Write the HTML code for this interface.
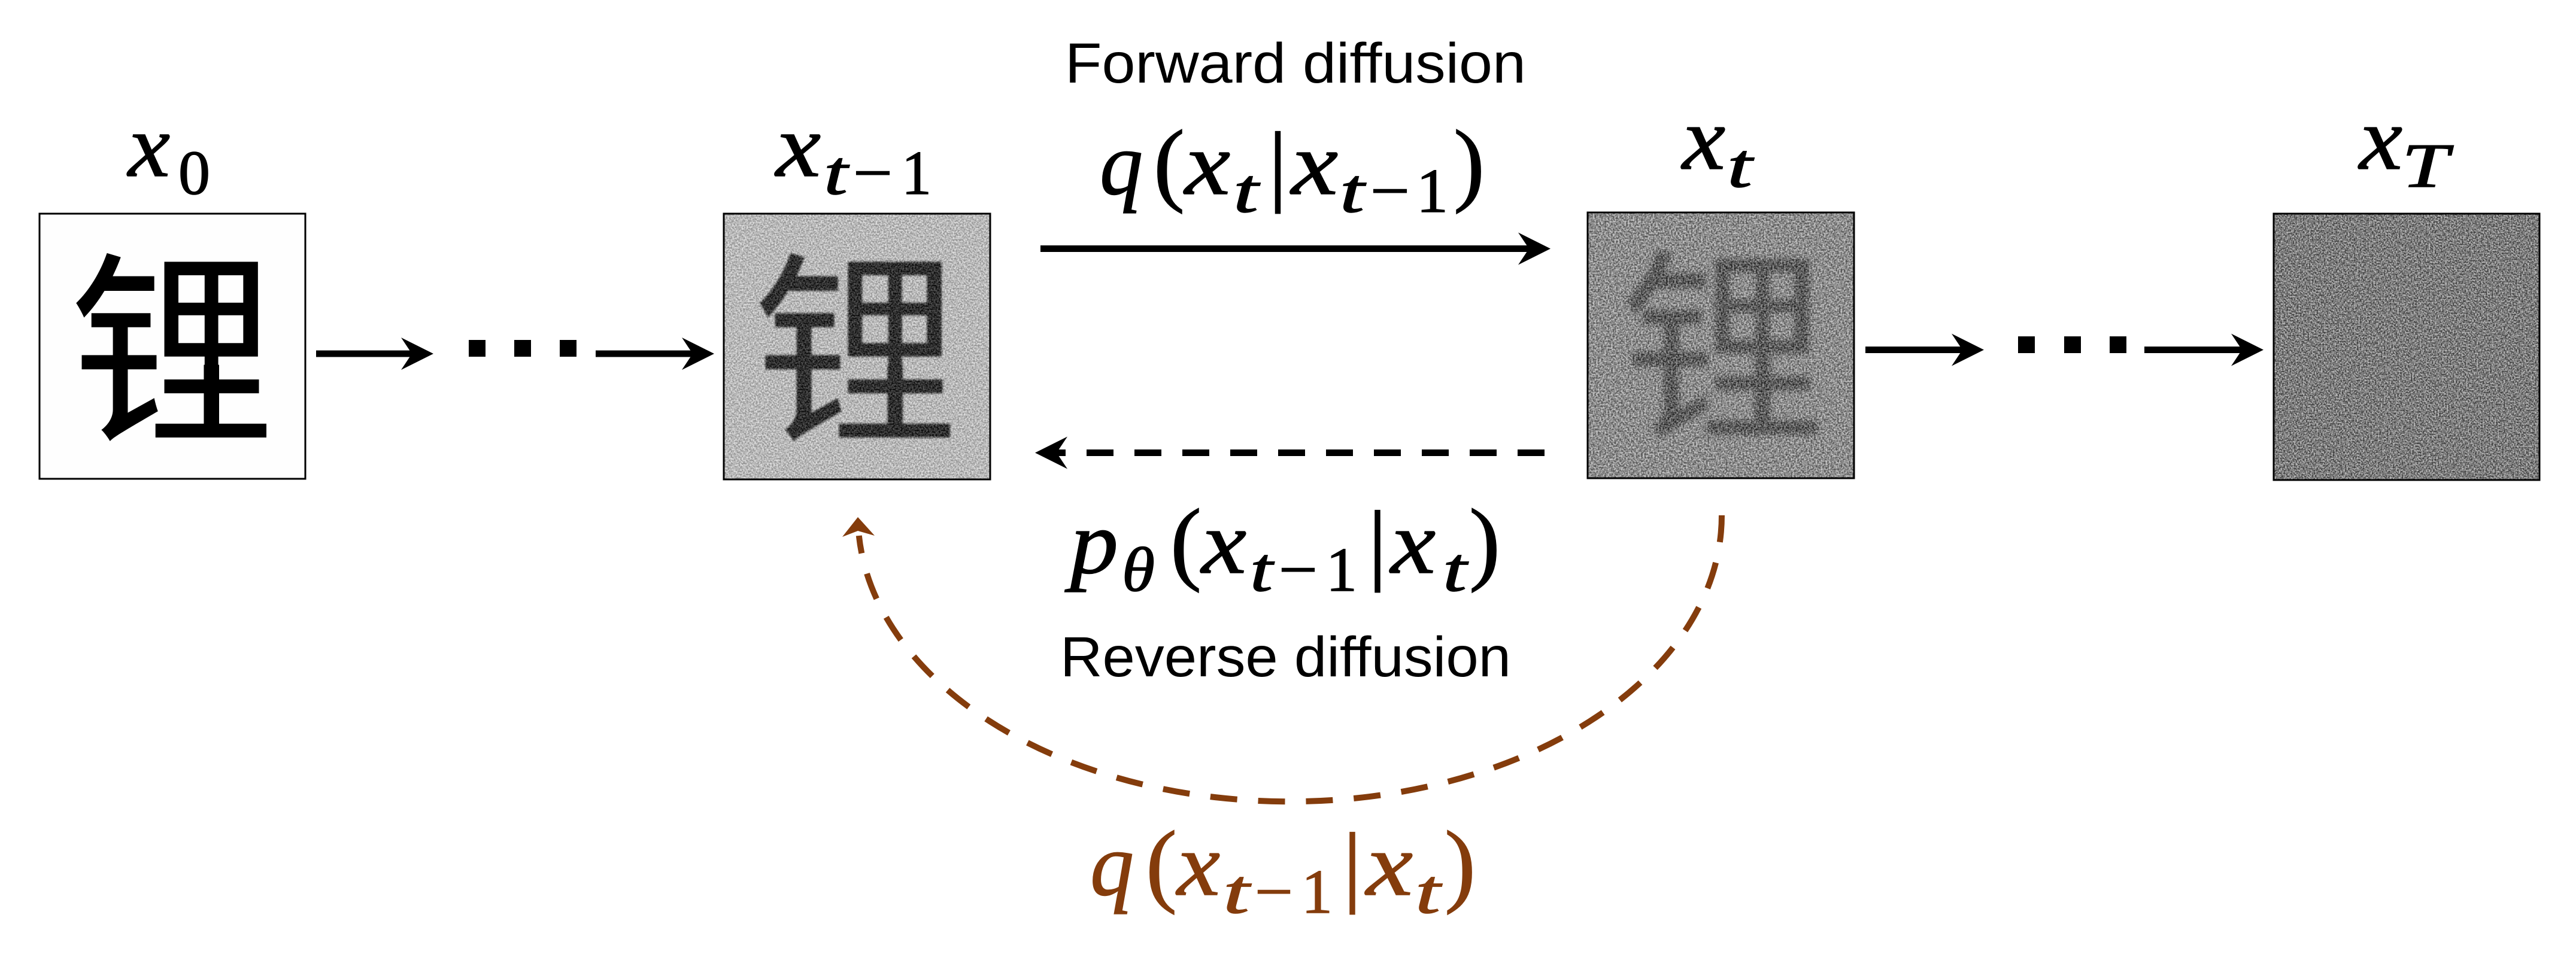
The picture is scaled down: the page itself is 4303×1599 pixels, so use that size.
<!DOCTYPE html>
<html>
<head>
<meta charset="utf-8">
<style>
  html, body { margin: 0; padding: 0; background: #ffffff; }
  svg { display: block; }
  .m { font-family: "Liberation Serif", "DejaVu Serif", serif; font-style: italic; stroke-width: 1.5px; }
  .u { font-family: "Liberation Serif", "DejaVu Serif", serif; font-style: normal; stroke-width: 1.5px; }
  .s { font-family: "Liberation Sans", "DejaVu Sans", sans-serif; }
  .cjk { font-family: "Noto Sans CJK SC", "WenQuanYi Zen Hei", sans-serif; }
  .blk text.m, .blk text.u { stroke: #000; }
  .brn text.m, .brn text.u { stroke: #843C0C; }
</style>
</head>
<body>
<svg xmlns="http://www.w3.org/2000/svg" width="4303" height="1599" viewBox="0 0 4303 1599">
  <defs>
    <filter id="noise" x="0" y="0" width="1" height="1" filterUnits="objectBoundingBox" color-interpolation-filters="sRGB">
      <feTurbulence type="fractalNoise" baseFrequency="0.38" numOctaves="2" seed="7" result="t"/>
      <feColorMatrix in="t" type="matrix" values="2.4 0 0 0 -0.7  2.4 0 0 0 -0.7  2.4 0 0 0 -0.7  0 0 0 0 1"/>
    </filter>
    <filter id="noise2" x="0" y="0" width="1" height="1" filterUnits="objectBoundingBox" color-interpolation-filters="sRGB">
      <feTurbulence type="fractalNoise" baseFrequency="0.36" numOctaves="2" seed="19" result="t"/>
      <feColorMatrix in="t" type="matrix" values="2.4 0 0 0 -0.7  2.4 0 0 0 -0.7  2.4 0 0 0 -0.7  0 0 0 0 1"/>
    </filter>
    <filter id="noise3" x="0" y="0" width="1" height="1" filterUnits="objectBoundingBox" color-interpolation-filters="sRGB">
      <feTurbulence type="fractalNoise" baseFrequency="0.4" numOctaves="2" seed="31" result="t"/>
      <feColorMatrix in="t" type="matrix" values="2.4 0 0 0 -0.7  2.4 0 0 0 -0.7  2.4 0 0 0 -0.7  0 0 0 0 1"/>
    </filter>
    <filter id="blur" x="-10%" y="-10%" width="120%" height="120%">
      <feGaussianBlur stdDeviation="5"/>
    </filter>
    <filter id="blur1" x="-10%" y="-10%" width="120%" height="120%">
      <feGaussianBlur stdDeviation="1.5"/>
    </filter>
    <clipPath id="c1"><rect x="1209" y="357" width="445" height="444"/></clipPath>
    <clipPath id="c2"><rect x="2652" y="355" width="445" height="444"/></clipPath>
  </defs>

  <rect x="0" y="0" width="4303" height="1599" fill="#ffffff"/>

  <!-- ============ Box x0 ============ -->
  <rect x="66" y="357" width="444" height="443" fill="#fefefe"/>
  <text class="cjk" x="288" y="712" font-size="345" text-anchor="middle" fill="#000">锂</text>
  <rect x="66" y="357" width="444" height="443" fill="none" stroke="#000" stroke-width="3"/>

  <!-- ============ Box x_{t-1} ============ -->
  <g clip-path="url(#c1)">
    <rect x="1209" y="357" width="445" height="444" fill="#d2d2d2"/>
    <text class="cjk" x="1430" y="712" font-size="345" text-anchor="middle" fill="#111" filter="url(#blur1)">锂</text>
    <rect x="1209" y="357" width="445" height="444" filter="url(#noise)" opacity="0.3"/>
  </g>
  <rect x="1209" y="357" width="445" height="444" fill="none" stroke="#000" stroke-width="3"/>

  <!-- ============ Box x_t ============ -->
  <g clip-path="url(#c2)">
    <rect x="2652" y="355" width="445" height="444" fill="#999999"/>
    <text class="cjk" x="2879" y="707" font-size="345" text-anchor="middle" fill="#3c3c3c" filter="url(#blur)">锂</text>
    <rect x="2652" y="355" width="445" height="444" filter="url(#noise2)" opacity="0.45"/>
  </g>
  <rect x="2652" y="355" width="445" height="444" fill="none" stroke="#000" stroke-width="3"/>

  <!-- ============ Box x_T ============ -->
  <rect x="3798" y="357" width="444" height="445" fill="#7a7a7a"/>
  <rect x="3798" y="357" width="444" height="445" filter="url(#noise3)" opacity="0.5"/>
  <rect x="3798" y="357" width="444" height="445" fill="none" stroke="#000" stroke-width="3"/>

  <g class="blk">
  <!-- ============ Labels above boxes ============ -->
  <!-- x_0 -->
  <text class="m" x="214" y="294" font-size="150" textLength="70" lengthAdjust="spacingAndGlyphs">x</text>
  <text class="u" x="298" y="324" font-size="105" textLength="53" lengthAdjust="spacingAndGlyphs">0</text>

  <!-- x_{t-1} -->
  <text class="m" x="1296" y="294" font-size="150" textLength="75" lengthAdjust="spacingAndGlyphs">x</text>
  <text class="m" x="1376" y="324" font-size="105" textLength="40" lengthAdjust="spacingAndGlyphs">t</text>
  <text class="u" x="1425" y="324" font-size="105" textLength="66" lengthAdjust="spacingAndGlyphs">−</text>
  <text class="u" x="1506" y="324" font-size="105" textLength="50" lengthAdjust="spacingAndGlyphs">1</text>

  <!-- x_t -->
  <text class="m" x="2810" y="282" font-size="150" textLength="72" lengthAdjust="spacingAndGlyphs">x</text>
  <text class="m" x="2885" y="312" font-size="105" textLength="42" lengthAdjust="spacingAndGlyphs">t</text>

  <!-- x_T -->
  <text class="m" x="3941" y="282" font-size="150" textLength="72" lengthAdjust="spacingAndGlyphs">x</text>
  <text class="m" x="4012" y="312" font-size="105" textLength="78" lengthAdjust="spacingAndGlyphs">T</text>

  <!-- q(x_t | x_{t-1}) -->
  <text class="m" x="1837" y="324" font-size="150" textLength="72" lengthAdjust="spacingAndGlyphs">q</text>
  <text class="u" x="1927" y="324" font-size="155" textLength="52" lengthAdjust="spacingAndGlyphs">(</text>
  <text class="m" x="1979" y="324" font-size="150" textLength="76" lengthAdjust="spacingAndGlyphs">x</text>
  <text class="m" x="2060" y="354" font-size="105" textLength="42" lengthAdjust="spacingAndGlyphs">t</text>
  <text class="u" x="2134.5" y="324" font-size="150" text-anchor="middle" style="stroke-width:2px">|</text>
  <text class="m" x="2157" y="324" font-size="150" textLength="78" lengthAdjust="spacingAndGlyphs">x</text>
  <text class="m" x="2238" y="354" font-size="105" textLength="41" lengthAdjust="spacingAndGlyphs">t</text>
  <text class="u" x="2289" y="354" font-size="105" textLength="66" lengthAdjust="spacingAndGlyphs">−</text>
  <text class="u" x="2366" y="354" font-size="105" textLength="53" lengthAdjust="spacingAndGlyphs">1</text>
  <text class="u" x="2428" y="324" font-size="155" textLength="52" lengthAdjust="spacingAndGlyphs">)</text>

  <!-- p_theta(x_{t-1} | x_t) -->
  <text class="m" x="1788" y="957" font-size="150" textLength="80" lengthAdjust="spacingAndGlyphs">p</text>
  <text class="m" x="1874" y="987" font-size="105" textLength="55" lengthAdjust="spacingAndGlyphs">θ</text>
  <text class="u" x="1955" y="957" font-size="155" textLength="52" lengthAdjust="spacingAndGlyphs">(</text>
  <text class="m" x="2007" y="957" font-size="150" textLength="75" lengthAdjust="spacingAndGlyphs">x</text>
  <text class="m" x="2088" y="987" font-size="105" textLength="38" lengthAdjust="spacingAndGlyphs">t</text>
  <text class="u" x="2136" y="987" font-size="105" textLength="65" lengthAdjust="spacingAndGlyphs">−</text>
  <text class="u" x="2215" y="987" font-size="105" textLength="52" lengthAdjust="spacingAndGlyphs">1</text>
  <text class="u" x="2301" y="957" font-size="150" text-anchor="middle" style="stroke-width:2px">|</text>
  <text class="m" x="2323" y="957" font-size="150" textLength="75" lengthAdjust="spacingAndGlyphs">x</text>
  <text class="m" x="2410" y="987" font-size="105" textLength="40" lengthAdjust="spacingAndGlyphs">t</text>
  <text class="u" x="2454" y="957" font-size="155" textLength="52" lengthAdjust="spacingAndGlyphs">)</text>
  </g>

  <!-- ============ Forward / Reverse text ============ -->
  <text class="s" x="1779" y="138" font-size="95" textLength="770" lengthAdjust="spacingAndGlyphs">Forward diffusion</text>
  <text class="s" x="1771" y="1130" font-size="95" textLength="753" lengthAdjust="spacingAndGlyphs">Reverse diffusion</text>

  <!-- ============ Arrows ============ -->
  <!-- forward solid arrow -->
  <line x1="1738" y1="415.5" x2="2560" y2="415.5" stroke="#000" stroke-width="11"/>
  <polygon points="2590,415.5 2536,388.5 2554,415.5 2536,442.5" fill="#000"/>

  <!-- reverse dashed arrow -->
  <line x1="2580" y1="756.5" x2="1750" y2="756.5" stroke="#000" stroke-width="11" stroke-dasharray="45 35"/>
  <polygon points="1729,756.5 1783,729.5 1765,756.5 1783,783.5" fill="#000"/>

  <!-- x0 -> ... -> x_{t-1} -->
  <line x1="528" y1="591" x2="700" y2="591" stroke="#000" stroke-width="11"/>
  <polygon points="724,591 670,564 688,591 670,618" fill="#000"/>
  <rect x="783" y="568" width="28" height="28" fill="#000"/>
  <rect x="859" y="568" width="28" height="28" fill="#000"/>
  <rect x="935" y="568" width="28" height="28" fill="#000"/>
  <line x1="995" y1="591" x2="1170" y2="591" stroke="#000" stroke-width="11"/>
  <polygon points="1193,591 1139,564 1157,591 1139,618" fill="#000"/>

  <!-- x_t -> ... -> x_T -->
  <line x1="3116" y1="584.5" x2="3290" y2="584.5" stroke="#000" stroke-width="11"/>
  <polygon points="3314,584.5 3260,557.5 3278,584.5 3260,611.5" fill="#000"/>
  <rect x="3371" y="562" width="28" height="28" fill="#000"/>
  <rect x="3448" y="562" width="28" height="28" fill="#000"/>
  <rect x="3524" y="562" width="28" height="28" fill="#000"/>
  <line x1="3582" y1="584.5" x2="3757" y2="584.5" stroke="#000" stroke-width="11"/>
  <polygon points="3781,584.5 3727,557.5 3745,584.5 3727,611.5" fill="#000"/>

  <!-- ============ Brown curved dashed arrow ============ -->
  <path d="M 2876 861 A 721.5 478 0 0 1 1434.8 895" fill="none" stroke="#843C0C" stroke-width="10" stroke-dasharray="45 35"/>
  <polygon points="1433,864 1407,897 1433,887 1461,895" fill="#843C0C"/>

  <!-- q(x_{t-1} | x_t) brown -->
  <g class="brn" fill="#843C0C">
    <text class="m" x="1821" y="1495" font-size="150" textLength="73" lengthAdjust="spacingAndGlyphs">q</text>
    <text class="u" x="1914" y="1495" font-size="155" textLength="52" lengthAdjust="spacingAndGlyphs">(</text>
    <text class="m" x="1966" y="1495" font-size="150" textLength="72" lengthAdjust="spacingAndGlyphs">x</text>
    <text class="m" x="2043" y="1525" font-size="105" textLength="44" lengthAdjust="spacingAndGlyphs">t</text>
    <text class="u" x="2096" y="1525" font-size="105" textLength="64" lengthAdjust="spacingAndGlyphs">−</text>
    <text class="u" x="2174" y="1525" font-size="105" textLength="52" lengthAdjust="spacingAndGlyphs">1</text>
    <text class="u" x="2259" y="1495" font-size="150" text-anchor="middle" style="stroke-width:2px">|</text>
    <text class="m" x="2282" y="1495" font-size="150" textLength="78" lengthAdjust="spacingAndGlyphs">x</text>
    <text class="m" x="2364" y="1525" font-size="105" textLength="42" lengthAdjust="spacingAndGlyphs">t</text>
    <text class="u" x="2413" y="1495" font-size="155" textLength="52" lengthAdjust="spacingAndGlyphs">)</text>
  </g>
</svg>
</body>
</html>
